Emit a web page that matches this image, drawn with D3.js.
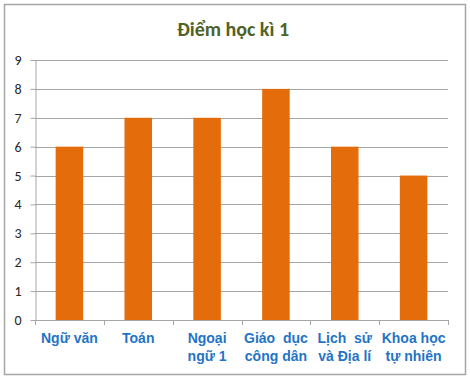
<!DOCTYPE html>
<html>
<head>
<meta charset="utf-8">
<script src="https://cdn.jsdelivr.net/npm/d3@7"></script>
<style>
    body { margin: 0; background: #fff; }
    svg { display: block; }
</style>
</head>
<body>
<div id="chart"></div>
<script>
    // データ
    var categories = [["Ngữ văn"], ["Toán"], ["Ngoại", "ngữ 1"], ["Giáo  dục", "công dân"], ["Lịch  sử", "và Địa lí"], ["Khoa học", "tự nhiên"]];
    var values = [6, 7, 7, 8, 6, 5];
    var yTicks = [0, 1, 2, 3, 4, 5, 6, 7, 8, 9];
    var title = "Điểm học kì 1";

    var width = 470;
    var height = 382;
    var plotLeft = 35, plotRight = 448, plotTop = 60, plotBottom = 320;

    var svg = d3.select("#chart")
        .append("svg")
        .attr("width", width)
        .attr("height", height);

    // 外枠
    svg.append("rect")
        .attr("x", 4.5)
        .attr("y", 4.5)
        .attr("width", 461)
        .attr("height", 370)
        .attr("fill", "#fff")
        .attr("stroke", "#a6a6a6")
        .attr("stroke-width", 1.5);

    svg.append("text")
        .text(title)
        .attr("x", 233)
        .attr("y", 36)
        .attr("text-anchor", "middle")
        .style("font-family", "Carlito, 'Open Sans', sans-serif")
        .style("font-weight", "bold")
        .style("font-size", "20px")
        .attr("fill", "#4f6228");

    var xScale = d3.scaleBand()
        .domain(d3.range(categories.length))
        .range([plotLeft, plotRight])
        .paddingInner(0.6)
        .paddingOuter(0.3);

    var yScale = d3.scaleLinear()
        .domain([0, 9])
        .range([plotBottom, plotTop]);

    // グリッド
    svg.append("g")
        .selectAll("line")
        .data(yTicks.slice(1))
        .enter()
        .append("line")
        .attr("x1", plotLeft)
        .attr("x2", plotRight)
        .attr("y1", function (d) { return Math.round(yScale(d)) + 0.5; })
        .attr("y2", function (d) { return Math.round(yScale(d)) + 0.5; })
        .attr("stroke", "#a6a6a6")
        .attr("stroke-width", 1);

    // 棒グラフ
    svg.append("g")
        .selectAll("rect")
        .data(values)
        .enter()
        .append("rect")
        .attr("x", function (d, i) { return xScale(i); })
        .attr("y", function (d) { return yScale(d); })
        .attr("width", xScale.bandwidth())
        .attr("height", function (d) { return plotBottom - yScale(d); })
        .attr("fill", "#e46c0a");

    // Y 軸
    var yAxis = d3.axisLeft(yScale)
        .tickValues(yTicks)
        .tickSize(5)
        .tickPadding(9)
        .tickSizeOuter(0);

    var gy = svg.append("g")
        .attr("transform", "translate(" + (plotLeft + 0.5) + ",0)")
        .call(yAxis);
    gy.selectAll("path, line").attr("stroke", "#a6a6a6");
    gy.selectAll("text")
        .style("font-family", "Carlito, 'Open Sans', sans-serif")
        .style("font-size", "14px")
        .attr("fill", "#262626");

    // X 軸
    var bounds = d3.range(categories.length + 1).map(function (i) {
        return plotLeft + (plotRight - plotLeft) * i / categories.length;
    });
    var gx = svg.append("g");
    gx.append("line")
        .attr("x1", plotLeft)
        .attr("x2", plotRight)
        .attr("y1", plotBottom + 0.5)
        .attr("y2", plotBottom + 0.5)
        .attr("stroke", "#a6a6a6");
    gx.selectAll(".tick")
        .data(bounds)
        .enter()
        .append("line")
        .attr("x1", function (d) { return Math.round(d) + 0.5; })
        .attr("x2", function (d) { return Math.round(d) + 0.5; })
        .attr("y1", plotBottom)
        .attr("y2", plotBottom + 5)
        .attr("stroke", "#a6a6a6");

    var labels = gx.selectAll("text")
        .data(categories)
        .enter()
        .append("text")
        .attr("text-anchor", "middle")
        .style("font-family", "Arial, 'Liberation Sans', sans-serif")
        .style("font-weight", "bold")
        .style("font-size", "14px")
        .style("white-space", "pre")
        .attr("fill", "#1f74c6");
    labels.selectAll("tspan")
        .data(function (d, i) { return d.map(function (s) { return { s: s, i: i }; }); })
        .enter()
        .append("tspan")
        .attr("x", function (d) { return xScale(d.i) + xScale.bandwidth() / 2; })
        .attr("y", function (d, j) { return 343 + j * 18; })
        .text(function (d) { return d.s; });
</script>
</body>
</html>
